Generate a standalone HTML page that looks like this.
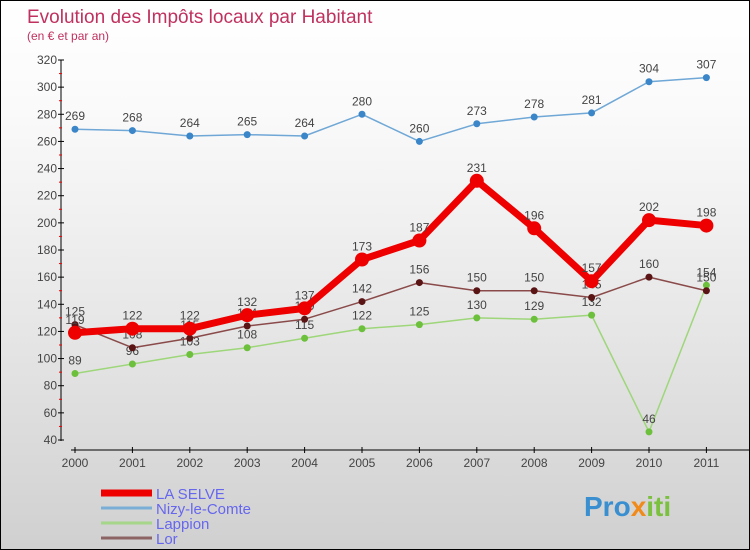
<!DOCTYPE html>
<html><head><meta charset="utf-8"><style>
body{margin:0}
#c{width:748px;height:548px;border:1px solid #000;background:linear-gradient(#fff,#fafafa 20%,#e6e6e6 60%,#d0d0d0);position:relative;overflow:hidden;font-family:"Liberation Sans",sans-serif}
</style></head><body>
<div id="c">
<svg id="s" width="748" height="548"></svg>
</div>
<script>
const years=["2000","2001","2002","2003","2004","2005","2006","2007","2008","2009","2010","2011"];
const laSelve=[119,122,122,132,137,173,187,231,196,157,202,198];
const nizy=[269,268,264,265,264,280,260,273,278,281,304,307];
const lappion=[89,96,103,108,115,122,125,130,129,132,46,154];
const lor=[125,108,115,124,129,142,156,150,150,145,160,150];
const yTicks=[40,60,80,100,120,140,160,180,200,220,240,260,280,300,320];
const NS="http://www.w3.org/2000/svg";
const s=document.getElementById('s');
function el(t,a,p){const e=document.createElementNS(NS,t);for(const k in a)e.setAttribute(k,a[k]);(p||s).appendChild(e);return e;}
const X=i=>74+i*57.4, Y=v=>59+(320-v)*380/280;
let t=el('text',{x:26,y:22,'font-size':19,fill:'#c0315f'});t.textContent='Evolution des Impôts locaux par Habitant';

t=el('text',{x:26,y:39,'font-size':12,fill:'#c0315f'});t.textContent='(en € et par an)';

el('line',{x1:60,y1:59,x2:60,y2:440,stroke:'#000'});
yTicks.forEach(v=>{el('line',{x1:57,x2:63,y1:Y(v),y2:Y(v),stroke:'#000'});
 if(v<320)el('line',{x1:58,x2:61,y1:Y(v+10),y2:Y(v+10),stroke:'#e00'});
 const tx=el('text',{x:56,y:Y(v)+4,'font-size':12,fill:'#444','text-anchor':'end'});tx.textContent=v;
 });
el('line',{x1:70,y1:449,x2:748,y2:449,stroke:'#000'});
years.forEach((y,i)=>{el('line',{x1:X(i),x2:X(i),y1:446,y2:452,stroke:'#000'});
 const tx=el('text',{x:X(i),y:466,'font-size':12,fill:'#444','text-anchor':'middle'});tx.textContent=y;
 });
function series(d,col,w,r,name,dot){
 const g=el('g',{});
 el('polyline',{points:d.map((v,i)=>X(i)+','+Y(v)).join(' '),fill:'none',stroke:col,'stroke-width':w,'stroke-linejoin':'round'},g);
 d.forEach((v,i)=>{const c=el('circle',{cx:X(i),cy:Y(v),r:r,fill:dot},g);
  
  const tx=el('text',{x:X(i),y:Y(v)-9,'font-size':12,fill:'#444','text-anchor':'middle'},g);tx.textContent=v;});
}
series(nizy,'#6fa7d6',1.5,3.5,'nizy-le-comte','#3a86c8');
series(lappion,'#9ed67a',1.5,3.5,'lappion','#6cc03c');
series(lor,'#8a4a4a',1.5,3.5,'lor','#5a1414');
series(laSelve,'#ee0000',7,7,'la-selve','#ee0000');
const leg=[['LA SELVE','#ee0000',7],['Nizy-le-Comte','#7aaed6',3],['Lappion','#a5d68a',3],['Lor','#8c6464',3]];
leg.forEach((l,i)=>{const g=el('g',{});
 const y=492+i*15;el('line',{x1:100,x2:151,y1:y,y2:y,stroke:l[1],'stroke-width':l[2]},g);
 const tx=el('text',{x:155,y:y+6,'font-size':15,fill:'#6666ee'},g);tx.textContent=l[0];});
const lg=el('text',{x:583,y:515,'font-size':28,'font-weight':'bold'});

[['Pro','#3a8fd0'],['x','#f08a1a'],['iti','#7cc040']].forEach(p=>{const ts=el('tspan',{fill:p[1]},lg);ts.textContent=p[0];});
</script>
</body></html>
